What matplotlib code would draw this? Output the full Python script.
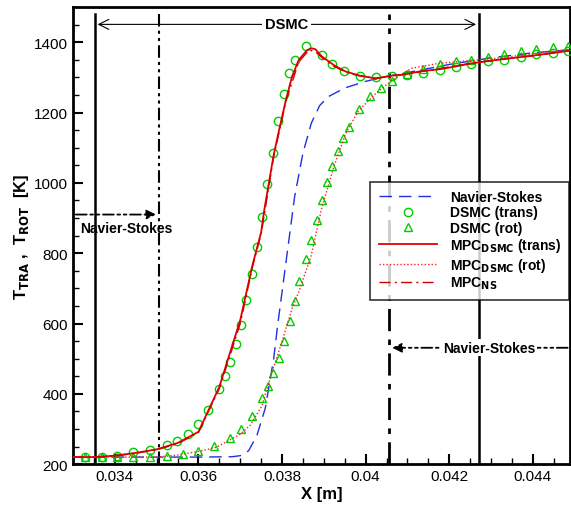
import numpy as np
import matplotlib.pyplot as plt

plt.rcParams['font.family'] = ['Liberation Sans', 'DejaVu Sans']

# DSMC translational temperature (circles)
x_trans = [0.03329, 0.0337, 0.03405, 0.03443, 0.03483, 0.03524, 0.03548, 0.03574,
           0.0360, 0.03624, 0.0365, 0.03664, 0.03676, 0.0369, 0.03702, 0.03714,
           0.03729, 0.0374, 0.03752, 0.03764, 0.03779, 0.0379, 0.03805, 0.03817,
           0.03831, 0.03857, 0.03895, 0.03919, 0.03948, 0.03986, 0.04024, 0.04062,
           0.041, 0.04138, 0.04179, 0.04217, 0.04252, 0.04293, 0.04331, 0.04371,
           0.04407, 0.04448, 0.04483]
t_trans = [220, 220, 223, 234, 240, 254, 266, 286,
           314, 354, 414, 451, 491, 543, 597, 666,
           740, 817, 903, 997, 1086, 1177, 1254, 1314,
           1351, 1389, 1363, 1337, 1317, 1303, 1300, 1303,
           1306, 1314, 1320, 1329, 1337, 1346, 1351, 1357,
           1366, 1371, 1374]

# DSMC rotational temperature (triangles)
x_rot = [0.03329, 0.0337, 0.03405, 0.03443, 0.03483, 0.03524, 0.03562, 0.0360,
         0.03638, 0.03676, 0.03702, 0.03729, 0.03752, 0.03767, 0.03779, 0.03793,
         0.03805, 0.03819, 0.03831, 0.0384, 0.03857, 0.03869, 0.03883, 0.03895,
         0.03907, 0.03919, 0.03933, 0.03945, 0.0396, 0.03983, 0.0401, 0.04036,
         0.04062, 0.041, 0.04138, 0.04179, 0.04217, 0.04252, 0.04293, 0.04331,
         0.04371, 0.04407, 0.04448, 0.04483]
t_rot = [220, 220, 220, 220, 220, 223, 229, 237,
         251, 274, 300, 337, 389, 423, 460, 503,
         551, 606, 663, 720, 783, 837, 894, 951,
         1003, 1049, 1091, 1129, 1160, 1211, 1246, 1271,
         1289, 1311, 1323, 1337, 1346, 1351, 1357, 1366,
         1374, 1380, 1386, 1389]

# Navier-Stokes
x_ns = [0.0330, 0.0360, 0.0368, 0.0370, 0.0372, 0.0374, 0.0376, 0.0378, 0.0379,
        0.0381, 0.0383, 0.0385, 0.0387, 0.0389, 0.0391, 0.0395, 0.0400, 0.0405,
        0.0410, 0.0420, 0.0430, 0.0440, 0.0450]
t_ns = [220, 220, 221, 224, 238, 282, 360, 500, 600,
        780, 960, 1085, 1170, 1220, 1245, 1270, 1289, 1303,
        1314, 1337, 1356, 1370, 1380]

# MPC (DSMC) translational
x_mt = [0.0330, 0.0335, 0.0340, 0.0345, 0.0350, 0.0355, 0.0360, 0.0365, 0.0370,
        0.03729, 0.0375, 0.03757, 0.0378, 0.03793, 0.0381, 0.03824, 0.0384, 0.0386,
        0.03871, 0.0388, 0.03895, 0.03924, 0.03952, 0.03983, 0.04024, 0.04062,
        0.04095, 0.04133, 0.04174, 0.04214, 0.04252, 0.0430, 0.0435, 0.0440, 0.0445, 0.0450]
t_mt = [220, 220, 224, 232, 242, 260, 292, 420, 610,
        765, 860, 920, 1080, 1151, 1240, 1303, 1350, 1378,
        1383, 1380, 1360, 1335, 1317, 1306, 1297, 1305,
        1309, 1318, 1323, 1331, 1340, 1348, 1355, 1362, 1370, 1378]

# MPC (DSMC) rotational
x_mr = [0.0330, 0.0350, 0.0355, 0.0360, 0.03643, 0.0370, 0.03724, 0.03752, 0.03771,
        0.0380, 0.03824, 0.0384, 0.03869, 0.03895, 0.03924, 0.03952, 0.03983, 0.04024,
        0.04062, 0.0411, 0.04174, 0.04229, 0.0430, 0.0435, 0.0440, 0.0445, 0.0450]
t_mr = [220, 220, 226, 236, 248, 285, 311, 366, 443,
        549, 643, 690, 790, 929, 1046, 1140, 1206, 1254,
        1291, 1326, 1340, 1346, 1353, 1360, 1367, 1374, 1381]

# MPC (NS)
x_mn = [0.0330, 0.0335, 0.0340, 0.0345, 0.0350, 0.0355, 0.0360, 0.0365, 0.0370,
        0.03729, 0.0375, 0.0378, 0.0381, 0.0384, 0.03865, 0.0388, 0.0390, 0.03924,
        0.03952, 0.03983, 0.04024, 0.04062, 0.0410, 0.0415, 0.0420, 0.0425, 0.0430,
        0.0435, 0.0440, 0.0445, 0.0450]
t_mn = [220, 220, 223, 231, 241, 258, 290, 415, 600,
        760, 855, 1075, 1235, 1345, 1378, 1373, 1352, 1332,
        1315, 1305, 1298, 1304, 1310, 1320, 1330, 1340, 1348,
        1355, 1362, 1370, 1378]

fig = plt.figure(figsize=(5.71, 5.10), dpi=100)
ax = fig.add_axes([0.128, 0.088, 0.871, 0.896])

ax.plot(x_ns, t_ns, color='#2030e0', lw=1, dashes=(9, 5), label='Navier-Stokes', zorder=3)
ax.plot(x_trans, t_trans, 'o', mfc='none', mec='#00cc00', ms=6, mew=1,
        label='DSMC (trans)', zorder=4)
ax.plot(x_rot, t_rot, '^', mfc='none', mec='#00cc00', ms=5.5, mew=1,
        label='DSMC (rot)', zorder=4)
ax.plot(x_mt, t_mt, color='#e00000', lw=1.3, label=r'MPC$_{\mathbf{DSMC}}$ (trans)', zorder=5)
ax.plot(x_mr, t_mr, color='#ff2020', lw=1, ls=(0, (1, 1.5)), label=r'MPC$_{\mathbf{DSMC}}$ (rot)', zorder=5)
ax.plot(x_mn, t_mn, color='#d00000', lw=1, dashes=(8, 3, 1.5, 3), label=r'MPC$_{\mathbf{NS}}$', zorder=5)

# interface lines
ax.axvline(0.03352, ymax=0.985, color='k', lw=1.8)
ax.axvline(0.04271, ymax=0.985, color='k', lw=1.8)
ax.axvline(0.03505, ymax=0.985, color='k', lw=1.5, dashes=(6, 2, 1.5, 2, 1.5, 2))
ax.axvline(0.04057, ymax=0.985, color='k', lw=2, dashes=(8, 3, 2, 3))

# DSMC region arrow
ax.annotate('', xy=(0.03352, 1451), xytext=(0.04271, 1451),
            arrowprops=dict(arrowstyle='<->', color='k', lw=0.8, mutation_scale=18))
ax.text(0.03811, 1451, 'DSMC', ha='center', va='center', fontsize=10.5, fontweight='bold',
        bbox=dict(fc='white', ec='none', pad=2))

# Navier-Stokes arrows
ax.annotate('', xy=(0.03505, 910), xytext=(0.033, 910),
            arrowprops=dict(arrowstyle='-|>', color='k', lw=1.3, ls=(0, (6, 2, 1.5, 2, 1.5, 2)),
                            mutation_scale=14))
ax.text(0.03317, 872, 'Navier-Stokes', ha='left', va='center', fontsize=10, fontweight='bold')
ax.annotate('', xy=(0.04057, 531), xytext=(0.0449, 531),
            arrowprops=dict(arrowstyle='-|>', color='k', lw=1.3, ls=(0, (6, 2, 1.5, 2, 1.5, 2)),
                            mutation_scale=14))
ax.text(0.04295, 531, 'Navier-Stokes', ha='center', va='center', fontsize=10, fontweight='bold',
        bbox=dict(fc='white', ec='none', pad=1))

ax.set_xlim(0.033, 0.0449)
ax.set_ylim(200, 1500)
ax.set_xticks([0.034, 0.036, 0.038, 0.04, 0.042, 0.044])
ax.set_xticklabels(['0.034', '0.036', '0.038', '0.04', '0.042', '0.044'])
ax.set_xticks(np.arange(0.0335, 0.045, 0.0005), minor=True)
ax.set_yticks([200, 400, 600, 800, 1000, 1200, 1400])
ax.set_yticks(np.arange(250, 1500, 50), minor=True)
ax.tick_params(which='both', direction='in', labelsize=11, top=False, right=False)
ax.tick_params(which='major', length=7, width=1.5)
ax.tick_params(which='minor', length=4, width=1)
for s in ax.spines.values():
    s.set_linewidth(2)

ax.set_xlabel('X [m]', fontsize=12, fontweight='bold', labelpad=2)
ax.set_ylabel(r'T$_{\mathbf{TRA}}$ ,  T$_{\mathbf{ROT}}$  [K]', fontsize=12, fontweight='bold', labelpad=2)

leg = ax.legend(loc='upper left', bbox_to_anchor=(0.598, 0.618), frameon=True,
                fancybox=False, edgecolor='k', handlelength=4.2, labelspacing=0.1,
                borderpad=0.6, handletextpad=0.9, borderaxespad=0,
                prop={'weight': 'bold', 'size': 10})
leg.get_frame().set_linewidth(1.2)

fig.savefig('out.png', dpi=100)
